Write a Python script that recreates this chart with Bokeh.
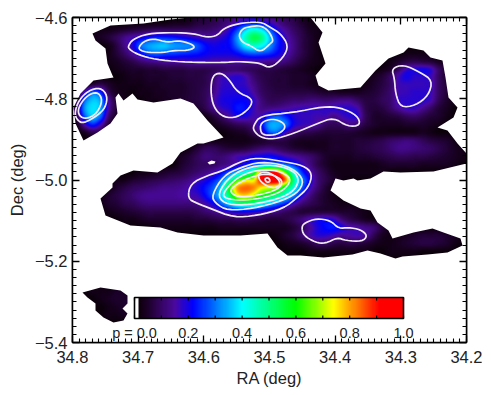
import numpy as np
from bokeh.plotting import figure
from bokeh.models import Range1d, FixedTicker, LinearAxis, LinearColorMapper
from bokeh.core.properties import value
from bokeh.embed import file_html
from bokeh.resources import INLINE

# probability map, hundredths of p, (first column, values) per row, top row first
N_COLS, N_ROWS, P_OUTSIDE = 49, 41, 2
P_ROWS = {
 0: (12, [3,3,4,6,7,8,10,12,16,18,20,18,16,13,10,8,5,3]),
 1: (3, [3,3,4,5,6,7,8,9,9,9,9,9,10,10,11,13,18,26,36,42,38,28,19,14,10,7,4,3]),
 2: (2, [3,4,6,9,13,16,19,22,24,24,23,21,19,17,16,16,18,22,33,45,54,50,36,24,17,12,8,5,3]),
 3: (4, [3,7,13,19,29,33,35,36,33,32,31,27,22,20,21,22,30,40,44,41,33,24,18,13,8,5,3]),
 4: (4, [3,6,10,15,21,27,29,27,26,25,24,23,21,20,20,20,22,26,28,27,25,21,17,12,8,5,3,2,2,2,2,2,2,2,2,2,2,3,3,3,3]),
 5: (4, [3,4,6,8,11,13,14,15,15,15,16,16,16,15,15,15,15,15,15,15,14,14,12,9,6,4,3,2,2,2,2,2,2,2,2,3,5,7,8,7,6,4,3]),
 6: (4, [2,3,4,5,5,6,6,7,7,7,8,8,8,9,10,11,11,10,9,8,8,7,6,5,4,3,2,2,2,2,2,2,2,2,3,5,10,17,19,20,18,10,5]),
 7: (5, [2,3,4,4,5,5,5,6,6,7,7,8,11,16,17,18,16,11,8,7,6,6,5,5,4,3,3,2,2,2,2,3,4,6,10,16,20,18,18,17,10,5]),
 8: (1, [3,6,8,5,3,3,3,3,4,4,5,5,5,6,7,8,12,17,18,18,17,13,9,7,6,6,5,5,4,3,2,2,2,2,2,3,5,7,10,16,17,17,17,17,10,6,3]),
 9: (0, [4,17,29,24,9,4,3,2,3,3,4,4,5,5,6,7,9,13,18,19,19,19,15,10,8,7,7,7,7,7,6,5,5,4,4,4,5,6,8,11,16,17,18,18,17,10,6,3]),
 10: (0, [8,28,36,33,15,6,3,2,2,3,3,4,4,5,6,7,9,15,19,20,21,21,18,12,9,9,10,11,11,12,12,11,12,13,13,10,7,7,9,11,17,18,18,18,16,9,5,3]),
 11: (0, [12,32,38,34,15,6,2,2,2,2,2,2,2,3,4,5,8,13,17,19,23,22,17,13,13,14,15,16,17,17,17,17,18,18,18,16,8,6,7,10,14,17,17,14,10,6,4,2]),
 12: (0, [8,27,36,29,11,4,2,2,2,2,2,2,2,2,2,2,3,6,10,15,19,19,16,17,24,28,24,19,17,17,16,16,13,16,18,18,9,5,5,6,7,9,10,8,6,5,3,2]),
 13: (0, [3,16,24,17,6,3,2,2,2,2,2,2,2,2,2,2,2,3,5,7,9,10,13,21,33,34,30,20,17,16,14,10,9,10,13,11,7,5,4,4,4,5,5,5,4,3,2]),
 14: (1, [4,8,7,3,2,2,2,2,2,2,2,2,2,2,2,2,2,2,3,4,5,9,15,27,28,17,12,9,8,7,6,6,6,6,5,4,3,3,3,3,3,3,4,3,2]),
 15: (15, [2,3,3,3,3,3,3,4,5,7,8,7,5,4,4,4,4,5,5,5,6,6,7,8,10,11,12,11,9,7,6,5,3,2]),
 16: (13, [2,3,6,9,9,7,6,6,7,9,11,12,10,8,6,5,4,4,4,5,5,5,6,7,8,9,11,13,13,12,11,10,8,6,4,3]),
 17: (11, [2,3,4,6,9,12,11,11,13,16,17,20,21,22,20,17,15,13,11,8,5,4,4,4,5,5,6,7,8,9,9,8,8,7,6,5,4,3]),
 18: (12, [2,5,7,9,10,10,12,14,17,22,27,31,33,32,29,24,18,13,8,5,3,3,3,3,3,3,4,5,5,5,5,4,4,4,4,3,2]),
 19: (7, [2,3,3,4,5,6,7,9,11,13,16,21,28,36,44,55,85,96,88,65,42,26,17,11,7,4,3,3,3,3,3,3]),
 20: (4, [2,3,3,5,6,7,8,9,10,11,13,16,19,23,30,44,60,70,72,92,98,97,84,50,33,21,12,8,5,3]),
 21: (2, [2,2,3,5,7,9,10,11,12,13,13,14,16,19,23,28,37,60,80,84,82,75,72,68,55,43,29,18,11,6,3]),
 22: (1, [2,2,3,5,7,9,11,13,14,14,14,14,15,16,17,22,29,38,52,72,76,70,60,56,50,42,32,20,13,8,5,3,2]),
 23: (2, [2,3,5,6,8,9,11,12,12,12,12,12,12,13,16,21,29,38,47,50,48,42,36,30,24,17,12,9,7,5,4,3,3,3]),
 24: (3, [2,3,4,5,6,7,8,8,8,8,8,8,9,11,13,16,19,21,21,20,18,15,13,10,8,6,6,6,6,6,5,5,4,3,2]),
 25: (5, [2,3,3,4,5,5,5,5,5,5,6,6,7,8,8,9,9,8,7,6,6,7,9,12,16,19,20,18,12,8,6,4,3,2]),
 26: (7, [2,2,2,3,3,3,3,3,3,3,3,4,4,4,4,4,4,4,4,4,6,9,14,19,22,23,20,16,15,13,11,6,3,2]),
 27: (25, [3,5,7,11,15,18,18,16,14,15,16,14,8,4,3,3,4,5,6,6,6,5,4,3]),
 28: (26, [3,4,5,7,10,10,8,7,8,7,6,4,3,3,4,5,6,7,7,6,5,3]),
 29: (29, [3,3,3,3,3,3,3,3,2,2,3,3,3,3,2]),
 34: (2, [3,3,3,4,4,4,3]),
 35: (3, [3,4,5,5,5,4]),
 36: (4, [3,4,5,5,4]),
 37: (4, [3,3,4,4,3]),
}

# colour scale of the map: p, red, green, blue
CB_P = [0.0, 0.012, 0.014, 0.03, 0.09, 0.15, 0.215, 0.40, 0.60, 0.74, 0.91, 1.0]
CB_R = [255, 255, 10, 20, 50, 75, 0, 0, 0, 255, 255, 255]
CB_G = [255, 255, 0, 0, 5, 10, 0, 255, 255, 255, 0, 0]
CB_B = [255, 255, 8, 25, 90, 160, 255, 255, 0, 0, 0, 0]
CB_TICKS = [0.0, 0.1, 0.2, 0.3, 0.4, 0.5, 0.6, 0.7, 0.8, 0.9, 1.0]
CB_LABELS = {0.0: "p = 0.0", 0.2: "0.2", 0.4: "0.4", 0.6: "0.6", 0.8: "0.8", 1.0: "1.0"}

# axes
RA_TICKS = [34.8, 34.7, 34.6, 34.5, 34.4, 34.3, 34.2]
DEC_TICKS = [-4.6, -4.8, -5.0, -5.2, -5.4]
DEC_LABELS = ["\u22124.6", "\u22124.8", "\u22125.0", "\u22125.2", "\u22125.4"]

# map-pixel traces (map pixels convert to degrees by the WCS below)
FIELD_MAIN = [(170,19),(190,17),(310,17),(322,32),(318,42),(325,63),(315,75),(318,85),(328,90),(360,87),(375,70),(388,58),(403,52),(408,47),(423,50),(430,57),(442,60),(445,77),(448,97),(457,107),(453,117),(437,127),(447,130),(457,143),(466,153),(466,163),(433,171),(400,172),(383,171),(370,178),(357,180),(353,178),(343,180),(335,178),(330,190),(343,200),(360,208),(370,210),(377,222),(388,230),(392,238),(413,232),(432,228),(443,232),(460,238),(462,245),(447,252),(427,254),(402,256),(395,258),(380,253),(367,250),(352,254),(323,257),(300,255),(287,255),(277,247),(267,233),(240,235),(203,235),(177,232),(160,227),(130,225),(105,215),(100,198),(112,187),(112,183),(120,175),(133,170),(157,172),(172,163),(180,152),(197,143),(203,143),(223,137),(207,120),(193,103),(180,98),(153,102),(137,99),(132,93),(123,100),(118,93),(115,97),(117,113),(110,123),(97,132),(83,140),(75,123),(73,107),(80,93),(93,80),(113,77),(112,75),(107,63),(105,48),(95,40),(92,33),(110,25),(143,23)]
FIELD_SMALL = [(82,292),(100,287),(120,290),(127,295),(127,303),(122,308),(127,313),(123,320),(113,322),(103,317),(95,310),(95,303),(87,297)]
FIELD_GAP = [(207,162),(211,160),(215,161),(214,163),(209,164)]
CONTOURS = [
 [(128,45),(132,39),(147,33),(173,32),(193,33),(207,37),(217,35),(223,28),(237,23),(260,21),(270,27),(280,33),(288,45),(283,57),(270,68),(260,63),(253,62),(237,61),(223,62),(203,62),(173,61),(150,58),(135,53),(128,48)],
 [(138,47),(143,41),(153,38),(167,42),(178,40),(190,43),(195,47),(187,50),(173,50),(163,52),(148,52),(140,50)],
 [(238,35),(242,28),(250,26),(260,25),(268,30),(273,40),(270,43),(260,52),(250,45),(242,42)],
 [(74,113),(78,100),(88,90),(100,87),(107,95),(105,107),(97,115),(83,123),(77,120)],
 [(77,110),(82,100),(90,93),(98,92),(102,100),(97,112),(88,118),(80,117)],
 [(212,75),(220,72),(228,78),(237,92),(252,98),(250,107),(237,117),(223,117),(213,107),(210,90)],
 [(260,122),(272,118),(283,122),(285,128),(277,134),(265,135),(260,132)],
 [(253,125),(260,115),(293,112),(323,106),(340,107),(357,115),(360,125),(347,126),(333,117),(317,123),(293,133),(273,139),(260,137),(253,130)],
 [(391,68),(403,64),(420,72),(432,80),(428,95),(415,105),(400,107),(395,93),(394,78)],
 [(187,198),(190,183),(207,175),(223,170),(240,161),(257,157),(283,161),(303,165),(312,173),(308,187),(297,197),(283,208),(257,215),(233,217),(210,208),(197,203)],
 [(211,195),(223,175),(240,167),(260,161),(287,165),(303,177),(300,190),(283,200),(253,208),(227,210),(215,203)],
 [(217,193),(230,175),(250,166),(273,164),(293,170),(299,180),(292,192),(273,200),(243,205),(223,203)],
 [(222,193),(235,178),(253,170),(273,169),(288,175),(290,182),(280,192),(260,198),(240,200),(225,198)],
 [(228,190),(240,181),(255,175),(270,173),(283,180),(278,189),(257,195),(237,197)],
 [(257,173),(267,171),(278,178),(280,185),(272,188),(260,182)],
 [(264,178),(268,177),(270,181),(266,182)],
 [(301,226),(303,235),(315,242),(325,243),(337,237),(345,240),(362,241),(367,235),(360,229),(348,227),(338,228),(330,220),(316,218),(305,222)],
]

# world coordinate system of the map
RA_LEFT, RA_RIGHT, DEC_TOP, DEC_BOTTOM = 34.8, 34.2, -4.6, -5.4
MAP_X0, MAP_Y0, MAP_W, MAP_H = 72, 17, 394, 325
def ra(px):
    return RA_LEFT + (np.asarray(px, float) - MAP_X0) * (RA_RIGHT - RA_LEFT) / MAP_W
def dec(py):
    return DEC_TOP + (np.asarray(py, float) - MAP_Y0) * (DEC_BOTTOM - DEC_TOP) / MAP_H
def trace(points):
    a = np.array(points, float)
    return list(ra(a[:, 0])), list(dec(a[:, 1]))
def rounded(points, passes=2):
    # corner cutting: a hand-read outline is drawn as a soft closed curve
    a = np.array(points, float)
    for _ in range(passes):
        b = np.roll(a, -1, axis=0)
        a = np.column_stack([0.75 * a + 0.25 * b, 0.25 * a + 0.75 * b]).reshape(-1, 2)
    return [tuple(v) for v in a]
def weights(n_coarse, factor):
    # Catmull-Rom resampling weights: the picture's raster is smooth, the reading is coarse
    n_fine = n_coarse * factor
    W = np.zeros((n_fine, n_coarse))
    for k in range(n_fine):
        u = (k + 0.5) / factor - 0.5
        i = int(np.floor(u))
        t = u - i
        w = [(-t**3 + 2*t**2 - t) / 2, (3*t**3 - 5*t**2 + 2) / 2, (-3*t**3 + 4*t**2 + t) / 2, (t**3 - t**2) / 2]
        for off, wt in zip((-1, 0, 1, 2), w):
            W[k, min(max(i + off, 0), n_coarse - 1)] += wt
    return W

FONT = "Liberation Sans"
INK = "#222222"

grid = np.full((N_ROWS, N_COLS), P_OUTSIDE / 100.0)
for r, (c0, vals) in P_ROWS.items():
    grid[r, c0:c0 + len(vals)] = np.array(vals) / 100.0
fine = weights(N_ROWS, 8) @ grid @ weights(N_COLS, 8).T
fine = np.clip(fine, 0.018, 1.0)

levels = np.linspace(0, 1, 256)
palette = ["#%02x%02x%02x" % (int(np.interp(t, CB_P, CB_R)), int(np.interp(t, CB_P, CB_G)), int(np.interp(t, CB_P, CB_B))) for t in levels]
mapper = LinearColorMapper(palette=palette, low=0, high=1)

p = figure(width=482, height=388, output_backend="svg", toolbar_location=None,
           x_range=Range1d(RA_LEFT, RA_RIGHT), y_range=Range1d(DEC_BOTTOM, DEC_TOP),
           frame_width=MAP_W, frame_height=MAP_H, min_border_left=MAP_X0, min_border_top=MAP_Y0,
           min_border_right=16, min_border_bottom=46, background_fill_color="white",
           outline_line_color="black", outline_line_width=1.5, x_axis_label="RA (deg)", y_axis_label="Dec (deg)")
p.grid.visible = False

# Bokeh lays image columns along increasing RA, rows along increasing Dec
p.image(image=[np.fliplr(np.flipud(fine))], x=RA_RIGHT, y=DEC_BOTTOM, dw=RA_LEFT - RA_RIGHT, dh=DEC_TOP - DEC_BOTTOM, color_mapper=mapper)

# everything outside the surveyed field is blank
fx, fy = trace(FIELD_MAIN)
sx, sy = trace(FIELD_SMALL)
edge_x = [RA_LEFT, RA_RIGHT, RA_RIGHT, RA_LEFT]
edge_y = [DEC_TOP, DEC_TOP, DEC_BOTTOM, DEC_BOTTOM]
p.multi_polygons(xs=[[[edge_x, fx, sx]]], ys=[[[edge_y, fy, sy]]], fill_color="white", line_color=None)
gx, gy = trace(FIELD_GAP)
p.patch(gx, gy, fill_color="white", line_color=None)

cx, cy = [], []
for c in CONTOURS:
    r_ = rounded(c)
    xs_, ys_ = trace(r_ + [r_[0]])
    cx.append(xs_)
    cy.append(ys_)
p.multi_line(cx, cy, line_color="#f1ecf6", line_width=1.7)

# colour bar
CB_X0, CB_X1, CB_YT, CB_YB = 134, 403, 297, 318
ramp = np.linspace(1, 0, 540).reshape(1, -1)
p.image(image=[ramp], x=float(ra(CB_X1)), y=float(dec(CB_YB)), dw=float(ra(CB_X0) - ra(CB_X1)), dh=float(dec(CB_YT) - dec(CB_YB)), color_mapper=mapper)
p.quad(left=float(ra(CB_X0)), right=float(ra(CB_X1)), top=float(dec(CB_YT)), bottom=float(dec(CB_YB)),
       fill_color=None, line_color="black", line_width=1.6)
tick_px = CB_X0 + np.array(CB_TICKS) * (CB_X1 - CB_X0)
p.segment(ra(tick_px), dec(CB_YT), ra(tick_px), dec(CB_YT + 3), line_color="black", line_width=1.2)
p.segment(ra(tick_px), dec(CB_YB - 3), ra(tick_px), dec(CB_YB), line_color="black", line_width=1.2)
lab_p = list(CB_LABELS)
p.text(x=ra(CB_X0 + np.array(lab_p) * (CB_X1 - CB_X0)), y=[float(dec(332))] * len(lab_p), text=[CB_LABELS[k] for k in lab_p],
       text_font=value(FONT), text_font_size="14.5px", text_color=INK, text_align="center", text_baseline="middle")

# axes, ticks inward on all four sides
ra_minor = [round(34.2 + 0.01 * i, 2) for i in range(61)]
dec_minor = [round(-5.4 + 0.02 * i, 2) for i in range(41)]
xt = FixedTicker(ticks=RA_TICKS, minor_ticks=ra_minor)
yt = FixedTicker(ticks=DEC_TICKS, minor_ticks=dec_minor)
def style(ax):
    ax.major_tick_in, ax.major_tick_out = 7, 0
    ax.minor_tick_in, ax.minor_tick_out = 4, 0
    ax.axis_line_color = "black"
    ax.axis_line_width = 1.5
    ax.major_tick_line_color = ax.minor_tick_line_color = "black"
    ax.major_tick_line_width = 1.3
    ax.minor_tick_line_width = 1.1
    ax.major_label_text_font = ax.axis_label_text_font = FONT
    ax.major_label_text_font_size = ax.axis_label_text_font_size = "16.5px"
    ax.major_label_text_color = ax.axis_label_text_color = INK
    ax.axis_label_text_font_style = "normal"

p.xaxis[0].ticker = xt
p.yaxis[0].ticker = yt
p.xaxis[0].major_label_overrides = {t: "%.1f" % t for t in RA_TICKS}
p.yaxis[0].major_label_overrides = dict(zip(DEC_TICKS, DEC_LABELS))
style(p.xaxis[0])
style(p.yaxis[0])
p.xaxis[0].major_label_standoff = 8
p.xaxis[0].axis_label_standoff = 3
p.yaxis[0].major_label_standoff = 5
p.yaxis[0].axis_label_standoff = 6

top = LinearAxis(ticker=xt)
right = LinearAxis(ticker=yt)
for ax in (top, right):
    style(ax)
    ax.major_label_text_font_size = "0px"
    ax.major_label_standoff = 0
    ax.major_label_text_color = None
p.add_layout(top, "above")
p.add_layout(right, "right")

open("out.html", "w").write(file_html(p, INLINE))
